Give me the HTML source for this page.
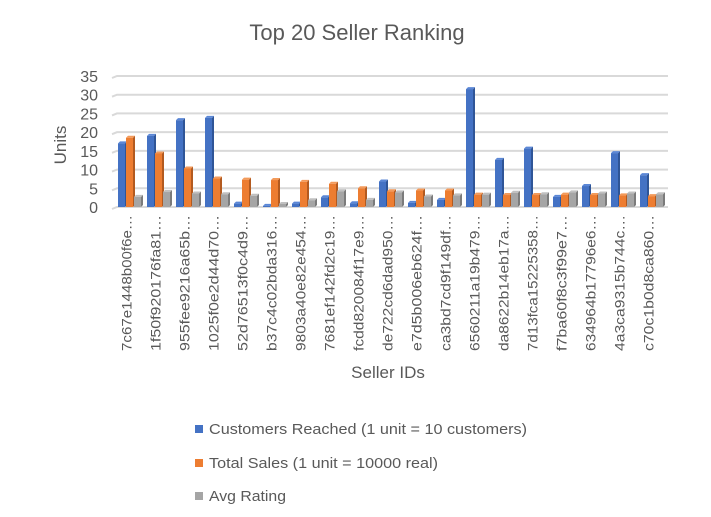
<!DOCTYPE html>
<html><head><meta charset="utf-8"><style>
body{margin:0;background:#fff;}
svg{display:block;font-family:"Liberation Sans",sans-serif;}
</style></head><body>
<svg id="chart" width="711" height="517" viewBox="0 0 711 517">
<text x="357" y="40" text-anchor="middle" font-size="22" fill="#595959">Top 20 Seller Ranking</text>
<g id="grid"></g><g id="yticks"></g><g id="bars"></g><g id="xlabels"></g>
<text transform="translate(66,145) rotate(-90)" text-anchor="middle" font-size="17" fill="#595959">Units</text>
<text x="388" y="378" text-anchor="middle" font-size="17" fill="#595959">Seller IDs</text>
<g>
<g><rect x="195" y="425" width="8" height="8" fill="#4472c4"/><text x="209" y="434" font-size="14.5" fill="#595959" textLength="318" lengthAdjust="spacingAndGlyphs">Customers Reached (1 unit = 10 customers)</text></g>
<g><rect x="195" y="459" width="8" height="8" fill="#ed7d31"/><text x="209" y="468" font-size="14.5" fill="#595959" textLength="229" lengthAdjust="spacingAndGlyphs">Total Sales (1 unit = 10000 real)</text></g>
<g><rect x="195" y="492" width="8" height="8" fill="#a5a5a5"/><text x="209" y="501" font-size="14.5" fill="#595959" textLength="77" lengthAdjust="spacingAndGlyphs">Avg Rating</text></g>
</g>
</svg>
<script>
const categories=["7c67e1448b00f6e…","1f50f920176fa81…","955fee9216a65b…","1025f0e2d44d70…","52d76513f0c4d9…","b37c4c02bda316…","9803a40e82e454…","7681ef142fd2c19…","fcdd820084f17e9…","de722cd6dad950…","e7d5b006eb624f…","ca3bd7cd9f149df…","6560211a19b479…","da8622b14eb17a…","7d13fca15225358…","f7ba60f8c3f99e7…","634964b17796e6…","4a3ca9315b744c…","c70c1b0d8ca860…"];
const customers=[17,19,23.2,23.8,0.9,0.3,0.9,2.6,1,6.8,1.1,1.9,31.5,12.6,15.6,2.7,5.6,14.4,8.5];
const sales=[18.5,14.3,10.3,7.6,7.3,7.2,6.7,6.2,5,4.2,4.4,4.4,3.3,3.2,3.2,3.3,3.2,3.1,2.9];
const rating=[2.7,4,3.6,3.4,3,0.8,1.8,4.2,1.9,3.9,2.8,3.1,3.3,3.8,3.4,3.9,3.6,3.6,3.4];
const yTicks=[0,5,10,15,20,25,30,35];
const NS="http://www.w3.org/2000/svg";
const x0=112,x1=668,yBase=207,yTop=76,yMax=35;
const bw=29;
function y(v){return yBase-(v/yMax)*(yBase-yTop);}
function xc(i){return x0+bw*i;}
function mk(tag,attrs,parent){const e=document.createElementNS(NS,tag);for(const k in attrs)e.setAttribute(k,attrs[k]);parent.appendChild(e);return e;}
const grid=document.getElementById('grid'),yt=document.getElementById('yticks');
yTicks.forEach(t=>{
 const l=mk('polyline',{points:`${x0},${y(t)+2} ${x0+5},${y(t)} ${x1},${y(t)}`,fill:'none',stroke:'#d9d9d9','stroke-width':2},grid);
 
 
 const tx=mk('text',{x:98,y:y(t)+6,'text-anchor':'end','font-size':16,fill:'#595959'},yt);
 tx.textContent=t;
 
 
});
const bars=document.getElementById('bars');
const series=[[customers,'#4472c4','#2f5597','#5b87d6','customers'],[sales,'#ed7d31','#b35a1f','#f39a5a','sales'],[rating,'#a5a5a5','#7b7b7b','#c0c0c0','rating']];
categories.forEach((c,i)=>{
 series.forEach((s,j)=>{
  const v=s[0][i];const bx=xc(i)+6+j*8;const top=y(v);const h=yBase-top;
  const g=mk('g',{},bars);
  
  
  mk('polygon',{points:`${bx+7},${top} ${bx+9},${top-2} ${bx+9},${yBase-2} ${bx+7},${yBase}`,fill:s[2]},g);
  mk('polygon',{points:`${bx},${top} ${bx+2},${top-2} ${bx+9},${top-2} ${bx+7},${top}`,fill:s[3]},g);
  mk('rect',{x:bx,y:top,width:7,height:Math.max(h,0.5),fill:s[1]},g);
 });
 const t=mk('text',{transform:`translate(${xc(i)+bw/2+5},215) rotate(-90)`,'text-anchor':'end','font-size':14,fill:'#595959',textLength:136,lengthAdjust:'spacingAndGlyphs'},document.getElementById('xlabels'));
 t.textContent=c;
 
 
});
</script>
</body></html>
